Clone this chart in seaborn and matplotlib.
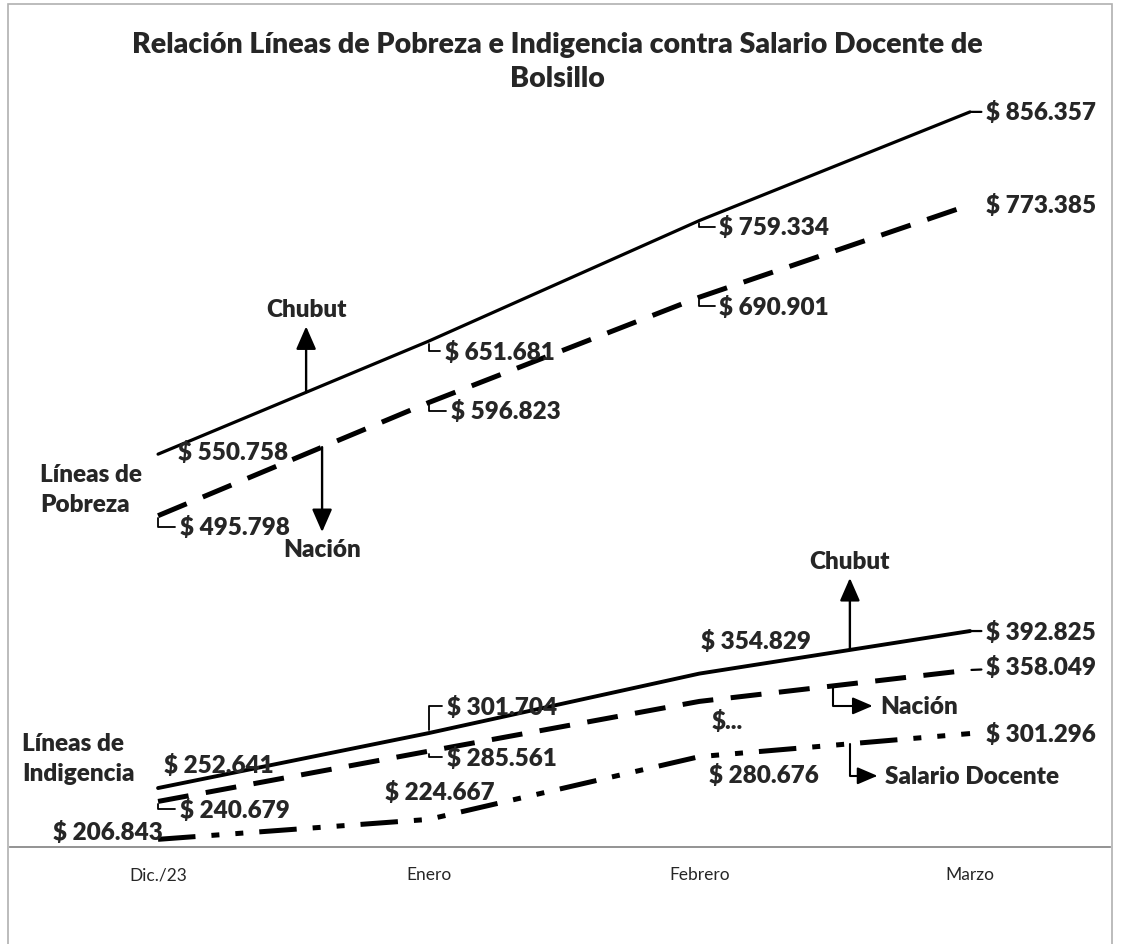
import matplotlib
matplotlib.use("Agg")
import matplotlib.pyplot as plt
import seaborn as sns
import pandas as pd
import numpy as np
from matplotlib.patches import Rectangle

## ---------------- DATOS ---------------- ##

meses = ["Dic./23", "Enero", "Febrero", "Marzo"]

pobreza_chubut = [550758, 651681, 759334, 856357]
pobreza_nacion = [495798, 596823, 690901, 773385]
indigencia_chubut = [252641, 301704, 354829, 392825]
indigencia_nacion = [240679, 285561, 330000, 358049]   # febrero no figura en el original ("$...")
salario_docente = [206843, 224667, 280676, 301296]

etiquetas_indig_nacion = ["$ 240.679", "$ 285.561", "$...", "$ 358.049"]

series = {
    "Pobreza Chubut": pobreza_chubut,
    "Pobreza Nación": pobreza_nacion,
    "Indigencia Chubut": indigencia_chubut,
    "Indigencia Nación": indigencia_nacion,
    "Salario Docente": salario_docente,
}

filas = []
for nombre, valores in series.items():
    for i, v in enumerate(valores):
        filas.append({"serie": nombre, "pos": i, "mes": meses[i], "valor": v})
df = pd.DataFrame(filas)


def pesos(v):
    return "$ " + f"{v:,}".replace(",", ".")


## ---------------- ESTILO ---------------- ##

sns.set_style("white")
plt.rcParams["font.family"] = ["Lato", "DejaVu Sans"]

fig = plt.figure(figsize=(11.22, 9.45), dpi=100)
ax = fig.add_axes([10 / 1122, 1 - 848 / 945, 1100 / 1122, (848 - 64) / 945])

estilos = {
    "Pobreza Chubut": dict(lw=2.3, ls="-"),
    "Pobreza Nación": dict(lw=3.6, ls=(0, (6.2, 3.5))),
    "Indigencia Chubut": dict(lw=2.8, ls="-"),
    "Indigencia Nación": dict(lw=3.6, ls=(0, (6.2, 3.5))),
    "Salario Docente": dict(lw=3.6, ls=(0, (7.5, 3.2, 1.6, 3.2, 1.6, 3.2))),
}

for nombre in series:
    d = df[df["serie"] == nombre]
    sns.lineplot(data=d, x="pos", y="valor", color="black", ax=ax,
                 linewidth=estilos[nombre]["lw"], linestyle=estilos[nombre]["ls"],
                 legend=False)

ax.set_xlim(-0.547, 3.517)
ax.set_ylim(200000, 900000)
ax.set_xticks(range(len(meses)))
ax.set_xticklabels(meses, fontsize=12.5)
ax.tick_params(axis="x", length=0, pad=14)
ax.set_yticks([])
ax.set_xlabel("")
ax.set_ylabel("")
for s in ["top", "left", "right"]:
    ax.spines[s].set_visible(False)
ax.spines["bottom"].set_color("#8a8a8a")
ax.spines["bottom"].set_linewidth(1.3)

## ---------------- ETIQUETAS DE VALORES ---------------- ##

fs = 17.5
peso = "heavy"
leader_l = dict(arrowstyle="-", color="black", lw=1.3,
                connectionstyle="angle,angleA=0,angleB=90,rad=0",
                shrinkA=1, shrinkB=2)
leader_r = dict(arrowstyle="-", color="black", lw=1.6, shrinkA=1, shrinkB=1)

# (serie, mes, dx, dy, ha, conector)
ubicaciones = [
    ("Pobreza Chubut", 0, 20, 3, "left", None),
    ("Pobreza Chubut", 1, 16, -10, "left", leader_l),
    ("Pobreza Chubut", 2, 20, -6, "left", leader_l),
    ("Pobreza Chubut", 3, 16, 0, "left", leader_r),
    ("Pobreza Nación", 0, 22, -11, "left", leader_l),
    ("Pobreza Nación", 1, 22, -8, "left", leader_l),
    ("Pobreza Nación", 2, 20, -9, "left", leader_l),
    ("Pobreza Nación", 3, 16, 0, "left", None),
    ("Indigencia Chubut", 0, 6, 24, "left", None),
    ("Indigencia Chubut", 1, 18, 27, "left", leader_l),
    ("Indigencia Chubut", 2, 57, 33, "center", None),
    ("Indigencia Chubut", 3, 16, 0, "left", leader_r),
    ("Indigencia Nación", 0, 22, -8, "left", leader_l),
    ("Indigencia Nación", 1, 18, -6, "left", leader_l),
    ("Indigencia Nación", 2, 12, -19, "left", None),
    ("Indigencia Nación", 3, 16, 3, "left", leader_r),
    ("Salario Docente", 0, 5, 8, "right", None),
    ("Salario Docente", 1, 11, 28, "center", None),
    ("Salario Docente", 2, 10, -18, "left", None),
    ("Salario Docente", 3, 16, 0, "left", None),
]

for nombre, i, dx, dy, ha, con in ubicaciones:
    v = series[nombre][i]
    txt = etiquetas_indig_nacion[i] if nombre == "Indigencia Nación" else pesos(v)
    ax.annotate(txt, xy=(i, v), xytext=(dx, dy), textcoords="offset pixels",
                ha=ha, va="center", fontsize=fs, fontweight=peso,
                arrowprops=con)

## ---------------- FLECHAS Y RÓTULOS ---------------- ##

flecha = dict(arrowstyle="<|-,head_length=0.8,head_width=0.35", color="black", lw=1.7,
              shrinkA=2, shrinkB=0)
flecha_codo = dict(arrowstyle="<|-,head_length=0.7,head_width=0.3", color="black", lw=1.5,
                   connectionstyle="angle,angleA=0,angleB=90,rad=0", shrinkA=3, shrinkB=0)

x_ch = 0.547
ax.annotate("Chubut", xy=(x_ch, np.interp(x_ch, range(4), pobreza_chubut)),
            xytext=(0, 83), textcoords="offset pixels", ha="center", va="center",
            fontsize=fs, fontweight=peso, arrowprops=flecha)

x_na = 0.606
ax.annotate("Nación", xy=(x_na, np.interp(x_na, range(4), pobreza_nacion)),
            xytext=(0, -102), textcoords="offset pixels", ha="center", va="center",
            fontsize=fs, fontweight=peso, arrowprops=flecha)

x_ch2 = 2.556
ax.annotate("Chubut", xy=(x_ch2, np.interp(x_ch2, range(4), indigencia_chubut)),
            xytext=(0, 89), textcoords="offset pixels", ha="center", va="center",
            fontsize=fs, fontweight=peso, arrowprops=flecha)

x_na2 = 2.494
ax.annotate("Nación", xy=(x_na2, np.interp(x_na2, range(4), indigencia_nacion)),
            xytext=(47, -20), textcoords="offset pixels", ha="left", va="center",
            fontsize=fs, fontweight=peso, arrowprops=flecha_codo)

x_sd = 2.556
ax.annotate("Salario Docente", xy=(x_sd, np.interp(x_sd, range(4), salario_docente)),
            xytext=(35, -32), textcoords="offset pixels", ha="left", va="center",
            fontsize=fs, fontweight=peso, arrowprops=flecha_codo)

fig.text(40 / 1122, 1 - 490 / 945, "Líneas de\nPobreza", ha="left", va="center",
         fontsize=fs, fontweight=peso, linespacing=1.4)
fig.text(22 / 1122, 1 - 759 / 945, "Líneas de\nIndigencia", ha="left", va="center",
         fontsize=fs, fontweight=peso, linespacing=1.4)

fig.text(557 / 1122, 1 - 62 / 945,
         "Relación Líneas de Pobreza e Indigencia contra Salario Docente de\nBolsillo",
         ha="center", va="center", fontsize=20.5, fontweight=peso, linespacing=1.35)

# marco del gráfico
fig.patches.append(Rectangle((8 / 1122, -0.01), 1104 / 1122, 1 - 5 / 945 + 0.01,
                             transform=fig.transFigure, fill=False,
                             edgecolor="#b0b0b0", lw=1.2))

plt.savefig("out.png", dpi=100)
